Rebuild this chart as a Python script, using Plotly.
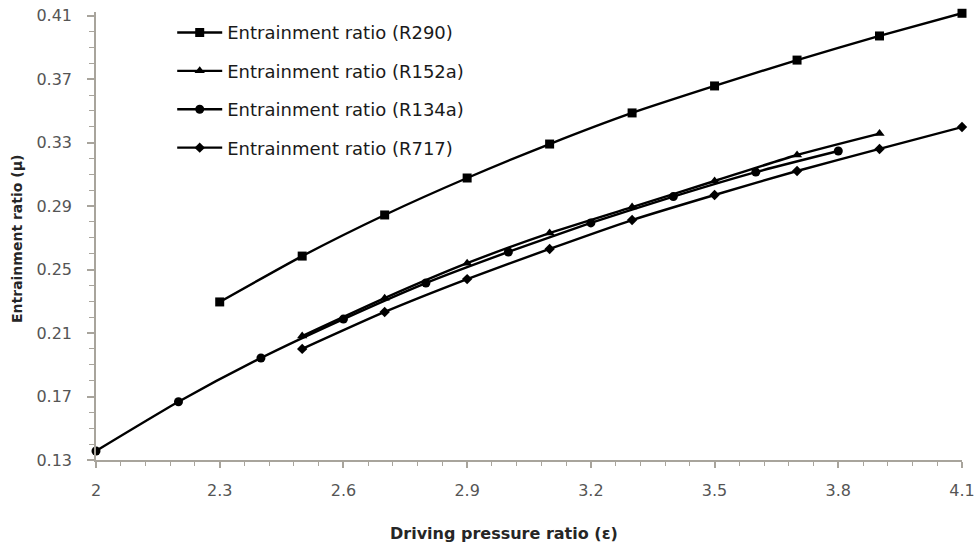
import plotly.graph_objects as go

# Data
x_r290 = [2.3, 2.5, 2.7, 2.9, 3.1, 3.3, 3.5, 3.7, 3.9, 4.1]
y_r290 = [0.2296, 0.2585, 0.2844, 0.3077, 0.3291, 0.3487, 0.3657, 0.3820, 0.3972, 0.4115]

x_r152a = [2.5, 2.7, 2.9, 3.1, 3.3, 3.5, 3.7, 3.9]
y_r152a = [0.2081, 0.2320, 0.2540, 0.2730, 0.2894, 0.3058, 0.3222, 0.3357]

x_r134a = [2.0, 2.2, 2.4, 2.6, 2.8, 3.0, 3.2, 3.4, 3.6, 3.8]
y_r134a = [0.1357, 0.1667, 0.1943, 0.2188, 0.2415, 0.2611, 0.2794, 0.2960, 0.3114, 0.3247]

x_r717 = [2.5, 2.7, 2.9, 3.1, 3.3, 3.5, 3.7, 3.9, 4.1]
y_r717 = [0.2000, 0.2233, 0.2440, 0.2630, 0.2812, 0.2970, 0.3121, 0.3260, 0.3398]

names = ["Entrainment ratio (R290)", "Entrainment ratio (R152a)",
         "Entrainment ratio (R134a)", "Entrainment ratio (R717)"]
symbols = ["square", "triangle-up", "circle", "diamond"]
sizes = [9, 9, 9, 8]

x_ticks = [2, 2.3, 2.6, 2.9, 3.2, 3.5, 3.8, 4.1]
y_ticks = [0.13, 0.17, 0.21, 0.25, 0.29, 0.33, 0.37, 0.41]

series = [(x_r290, y_r290), (x_r152a, y_r152a), (x_r134a, y_r134a), (x_r717, y_r717)]

fig = go.Figure()
for i, ((xs, ys), nm, sym, sz) in enumerate(zip(series, names, symbols, sizes)):
    fig.add_trace(go.Scatter(
        x=xs, y=ys, name=nm, mode="lines+markers",
        line=dict(color="black", width=2.4, shape="spline", smoothing=0.6),
        marker=dict(symbol=sym, size=sz, color="black"),
        legendgroup=f"g{i}", cliponaxis=False,
    ))

axis_color = "#a8a49c"
tick_font = dict(family="DejaVu Sans", size=16, color="#555555")

fig.update_layout(
    width=975, height=546,
    margin=dict(l=96, r=13, t=12, b=86, autoexpand=False),
    paper_bgcolor="white", plot_bgcolor="white",
    showlegend=True,
    legend=dict(
        x=0.088, y=0.995, xanchor="left", yanchor="top",
        font=dict(family="DejaVu Sans", size=18, color="#1a1a1a"),
        tracegroupgap=12, bgcolor="rgba(0,0,0,0)", itemwidth=45,
    ),
    xaxis=dict(
        range=[2, 4.1], tickvals=x_ticks, ticktext=[f"{v:g}" for v in x_ticks],
        showgrid=False, zeroline=False, automargin=False,
        showline=True, linecolor=axis_color, linewidth=1.5,
        ticks="outside", ticklen=6, tickcolor=axis_color, tickwidth=1.5,
        minor=dict(dtick=0.06, tick0=2, ticks="outside", ticklen=4,
                   tickcolor=axis_color, tickwidth=1, showgrid=False),
        tickfont=tick_font, ticklabelstandoff=9,
    ),
    yaxis=dict(
        range=[0.13, 0.4123], tickvals=y_ticks,
        ticktext=[f"{v:.2f}" for v in y_ticks],
        showgrid=False, zeroline=False, automargin=False,
        showline=True, linecolor=axis_color, linewidth=1.5,
        ticks="outside", ticklen=7, tickcolor=axis_color, tickwidth=1.5,
        minor=dict(dtick=0.01, tick0=0.13, ticks="outside", ticklen=5,
                   tickcolor=axis_color, tickwidth=1, showgrid=False),
        tickfont=tick_font, ticklabelposition="outside", ticklabelstandoff=12,
    ),
    annotations=[
        dict(text="Driving pressure ratio (ε)", xref="paper", yref="paper",
             x=0.4706, y=0, xanchor="center", yanchor="middle", yshift=-73,
             showarrow=False,
             font=dict(family="DejaVu Sans", size=16, color="#262626", weight="bold")),
        dict(text="Entrainment ratio (μ)", xref="paper", yref="paper",
             x=0, y=0.5, xanchor="center", yanchor="middle", xshift=-79, yshift=-3,
             textangle=-90, showarrow=False,
             font=dict(family="DejaVu Sans", size=14, color="#262626", weight="bold")),
    ],
)

fig.write_html("out.html")
